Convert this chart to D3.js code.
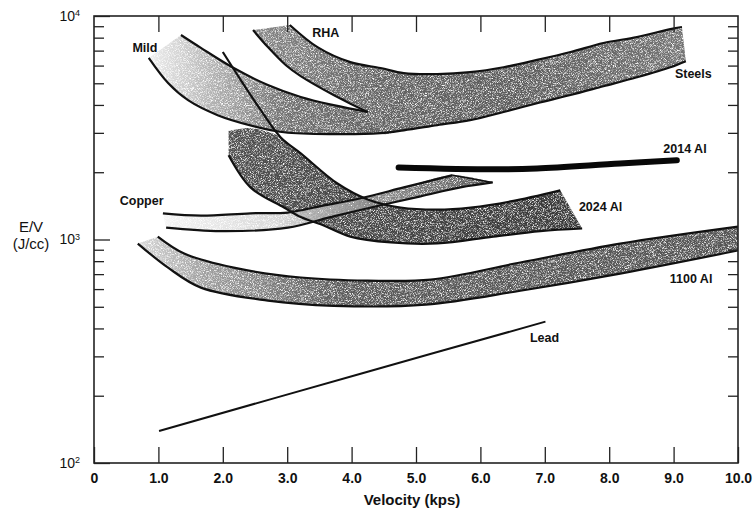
<!DOCTYPE html>
<html>
<head>
<meta charset="utf-8">
<script src="https://cdn.jsdelivr.net/npm/d3@7"></script>
<style>
  body { margin: 0; background: #fff; }
  text { font-family: "Liberation Sans", Arial, Helvetica, sans-serif; fill: #111; }
</style>
</head>
<body>
<script>

	// ---- values: [velocity (kps), E/V (J/cc)] ----
	var steelsUpper = [[3.04,9120],[3.47,7260],[3.98,6220],[4.45,5850],[4.81,5550],[5.33,5500],[5.84,5610],
	    [6.36,5900],[6.88,6360],[7.40,6900],[7.91,7570],[8.43,8050],[8.95,8740],[9.13,8930]];
	var steelsLower = [[0.85,6490],[1.15,5010],[1.46,4200],[1.92,3600],[2.43,3240],[2.95,3020],[3.72,2960],
	    [4.45,2990],[4.81,3080],[5.33,3250],[5.84,3420],[6.36,3720],[6.88,4070],[7.40,4430],[7.91,4850],
	    [8.43,5320],[8.95,5900],[9.19,6280]];
	var mildUpper = [[1.35,8220],[1.66,7200],[2.17,5850],[2.70,4910],[3.21,4340],[3.72,3990],[4.25,3720]];
	var rhaLower = [[2.47,8650],[2.70,7260],[2.98,6020],[3.21,5380],[3.72,4430],[4.25,3720]];

	var al2024Upper = [[2.00,6900],[2.28,5160],[2.59,3790],[2.90,2860],[3.21,2430],[3.78,1780],[4.25,1510],
	    [4.76,1390],[5.33,1360],[5.85,1390],[6.47,1480],[7.24,1660]];
	var al2024Lower = [[2.09,2380],[2.43,1710],[2.95,1390],[3.21,1260],[3.52,1170],[3.98,1030],[4.61,970],
	    [5.33,960],[6.20,1030],[6.93,1090],[7.58,1120]];
	var al2024ShadeTop = [[2.09,3060],[2.43,3150],[2.75,3000]];

	var copperUpper = [[1.07,1310],[1.66,1280],[2.43,1310],[3.01,1320],[3.52,1410],[4.14,1530],[4.81,1710],[5.57,1940]];
	var copperLower = [[1.12,1130],[1.97,1090],[3.01,1130],[3.67,1260],[4.30,1390],[5.07,1560],[5.69,1710],[6.19,1800]];

	var al2014 = [[4.73,2100],[6.20,2060],[6.88,2080],[8.17,2190],[9.05,2260]];

	var al1100Upper = [[0.99,1030],[1.40,865],[2.17,748],[3.21,676],[4.25,655],[5.23,662],[6.62,789],[8.17,959],[10.0,1143]];
	var al1100Lower = [[0.68,959],[1.15,748],[1.66,609],[2.70,533],[3.72,505],[5.15,511],[6.62,590],[8.17,704],[10.0,893]];

	var lead = [[1.01,139],[4.14,251],[7.01,429]];

	var xTicks = [0,1,2,3,4,5,6,7,8,9,10];
	var xTickLabels = ["0","1.0","2.0","3.0","4.0","5.0","6.0","7.0","8.0","9.0","10.0"];
	var yMajor = [100,1000,10000];
	var yMinor = [200,300,400,500,600,700,800,900,2000,3000,4000,5000,6000,7000,8000,9000];

	var labelText = ["Mild","RHA","Steels","2014 Al","2024 Al","Copper","1100 Al","Lead"];
	var labelAt   = [[0.79,6900],[3.60,8050],[9.02,5280],[8.84,2440],[7.53,1340],[0.40,1430],[8.94,638],[6.77,348]];
	var labelAnchor = ["middle","middle","start","start","start","start","start","start"];


	var width = 755, height = 513;

	var svg = d3.select("body")
	    .append("svg")
	    .attr("width", width)
	    .attr("height", height);

	var x = d3.scaleLinear().domain([0, 10]).range([94, 738]);
	var y = d3.scaleLog().domain([100, 10000]).range([463, 16]);

	var defs = svg.append("defs");

	defs.append("clipPath").attr("id", "plot")
	    .append("rect")
	    .attr("x", 94).attr("y", 16)
	    .attr("width", 644).attr("height", 447);

	// speckled shading like the printed halftone
	var grain = defs.append("filter")
	    .attr("id", "grain")
	    .attr("x", 0).attr("y", 0).attr("width", 1).attr("height", 1)
	    .attr("color-interpolation-filters", "sRGB");
	grain.append("feTurbulence")
	    .attr("type", "fractalNoise")
	    .attr("baseFrequency", 1.4)
	    .attr("numOctaves", 3)
	    .attr("seed", 7)
	    .attr("result", "noise");
	grain.append("feColorMatrix")
	    .attr("in", "noise")
	    .attr("type", "matrix")
	    .attr("values", "0 0 0 0 0  0 0 0 0 0  0 0 0 0 0  2.8 0 0 0 -0.55")
	    .attr("result", "mask");
	grain.append("feComposite")
	    .attr("in", "SourceGraphic")
	    .attr("in2", "mask")
	    .attr("operator", "in");

	function addGrad(id, v0, v1, stops) {
	    var g = defs.append("linearGradient")
	        .attr("id", id)
	        .attr("gradientUnits", "userSpaceOnUse")
	        .attr("x1", x(v0)).attr("x2", x(v1))
	        .attr("y1", 0).attr("y2", 0);
	    stops.forEach(function(s) {
	        g.append("stop").attr("offset", s[0]).attr("stop-color", s[1]);
	    });
	}

	addGrad("gMild", 0.85, 4.3, [[0,"#f0f0f0"],[0.3,"#b0b0b0"],[0.6,"#727272"],[1,"#626262"]]);
	addGrad("gSteel", 2.4, 9.2, [[0,"#8a8a8a"],[0.3,"#646464"],[0.6,"#5c5c5c"],[1,"#747474"]]);
	addGrad("g2024", 2.0, 7.6, [[0,"#505050"],[1,"#383838"]]);
	addGrad("gCopper", 1.0, 6.2, [[0,"#f6f6f6"],[0.35,"#d8d8d8"],[0.65,"#8a8a8a"],[1,"#5a5a5a"]]);
	addGrad("g1100", 0.6, 10, [[0,"#dcdcdc"],[0.12,"#a0a0a0"],[0.35,"#5a5a5a"],[1,"#555555"]]);

	var smooth = d3.line()
	    .x(function(d){ return x(d[0]); })
	    .y(function(d){ return y(d[1]); })
	    .curve(d3.curveCatmullRom.alpha(0.5));

	var straight = d3.line()
	    .x(function(d){ return x(d[0]); })
	    .y(function(d){ return y(d[1]); });

	function band(top, bottom) {
	    return smooth(top) + "L" + smooth(bottom.slice().reverse()).slice(1) + "Z";
	}

	var plot = svg.append("g").attr("clip-path", "url(#plot)");

	// shaded bands
	var shades = plot.append("g");

	shades.append("path")
	    .attr("d", band(mildUpper, steelsLower.filter(function(d){ return d[0] <= 4.5; })))
	    .attr("fill", "url(#gMild)")
	    .attr("filter", "url(#grain)");

	shades.append("path")
	    .attr("d", band(steelsUpper, rhaLower.concat(steelsLower.filter(function(d){ return d[0] > 4.3; }))))
	    .attr("fill", "url(#gSteel)")
	    .attr("filter", "url(#grain)");

	shades.append("path")
	    .attr("d", band(al2024ShadeTop.concat(al2024Upper.filter(function(d){ return d[0] >= 2.9; })), al2024Lower))
	    .attr("fill", "url(#g2024)")
	    .attr("filter", "url(#grain)");

	shades.append("path")
	    .attr("d", band(copperUpper.concat([copperLower[copperLower.length - 1]]), copperLower))
	    .attr("fill", "url(#gCopper)")
	    .attr("filter", "url(#grain)");

	shades.append("path")
	    .attr("d", band(al1100Upper, al1100Lower))
	    .attr("fill", "url(#g1100)")
	    .attr("filter", "url(#grain)");

	// outlines
	var edges = [steelsUpper, steelsLower, mildUpper, rhaLower, al2024Upper, al2024Lower,
	    copperUpper, copperLower, al1100Upper, al1100Lower];

	plot.append("g").selectAll("path")
	    .data(edges)
	    .enter()
	    .append("path")
	    .attr("d", smooth)
	    .attr("fill", "none")
	    .attr("stroke", "#111")
	    .attr("stroke-width", 2.2);

	plot.append("path")
	    .attr("d", straight([copperUpper[copperUpper.length - 1], copperLower[copperLower.length - 1]]))
	    .attr("fill", "none")
	    .attr("stroke", "#111")
	    .attr("stroke-width", 1.6);

	plot.append("path")
	    .attr("d", smooth(lead))
	    .attr("fill", "none")
	    .attr("stroke", "#111")
	    .attr("stroke-width", 2);

	plot.append("path")
	    .attr("d", smooth(al2014))
	    .attr("fill", "none")
	    .attr("stroke", "#080808")
	    .attr("stroke-width", 6)
	    .attr("stroke-linecap", "round");

	// curve labels
	svg.append("g").selectAll("text")
	    .data(labelText)
	    .enter()
	    .append("text")
	    .attr("x", function(d, i){ return x(labelAt[i][0]); })
	    .attr("y", function(d, i){ return y(labelAt[i][1]); })
	    .attr("text-anchor", function(d, i){ return labelAnchor[i]; })
	    .attr("font-size", "12.5px")
	    .attr("font-weight", "bold")
	    .text(function(d){ return d; });

	// axes
	var axisColor = "#222";

	svg.append("g")
	    .attr("transform", "translate(0,463)")
	    .call(d3.axisBottom(x).tickValues(xTicks).tickSize(-16).tickPadding(10)
	        .tickFormat(function(d, i){ return xTickLabels[i]; }))
	    .call(function(g){ g.select(".domain").remove(); })
	    .call(function(g){
	        g.selectAll("line").attr("stroke", axisColor).attr("stroke-width", 1.3);
	        g.selectAll("text").attr("font-size", "14px").attr("font-weight", "bold").attr("fill", "#111");
	    });

	svg.append("g")
	    .attr("transform", "translate(0,16)")
	    .call(d3.axisTop(x).tickValues(xTicks.slice(1, 10)).tickSize(-16).tickFormat(""))
	    .call(function(g){ g.select(".domain").remove(); })
	    .call(function(g){ g.selectAll("line").attr("stroke", axisColor).attr("stroke-width", 1.3); });

	svg.append("g")
	    .attr("transform", "translate(94,0)")
	    .call(d3.axisLeft(y).tickValues(yMinor).tickSize(-10).tickFormat(""))
	    .call(function(g){ g.select(".domain").remove(); })
	    .call(function(g){ g.selectAll("line").attr("stroke", axisColor).attr("stroke-width", 1.3); });

	svg.append("g")
	    .attr("transform", "translate(94,0)")
	    .call(d3.axisLeft(y).tickValues(yMajor).tickSize(-16).tickPadding(8).tickFormat(function(){ return "10"; }))
	    .call(function(g){ g.select(".domain").remove(); })
	    .call(function(g){
	        g.selectAll("line").attr("stroke", axisColor).attr("stroke-width", 1.3);
	        g.selectAll("text")
	            .attr("font-size", "14px")
	            .attr("fill", "#111")
	            .attr("dx", "-6px")
	            .each(function(d){
	                d3.select(this).append("tspan")
	                    .attr("dy", "-0.55em")
	                    .attr("font-size", "9px")
	                    .text(Math.round(Math.log10(d)));
	            });
	    });

	svg.append("g")
	    .attr("transform", "translate(738,0)")
	    .call(d3.axisRight(y).tickValues(yMinor).tickSize(-10).tickFormat(""))
	    .call(function(g){ g.select(".domain").remove(); })
	    .call(function(g){ g.selectAll("line").attr("stroke", axisColor).attr("stroke-width", 1.3); });

	// frame
	svg.append("rect")
	    .attr("x", 94).attr("y", 16)
	    .attr("width", 644).attr("height", 447)
	    .attr("fill", "none")
	    .attr("stroke", axisColor)
	    .attr("stroke-width", 1.6);

	// axis titles
	svg.append("text")
	    .attr("x", 412).attr("y", 505)
	    .attr("text-anchor", "middle")
	    .attr("font-size", "15px")
	    .attr("font-weight", "bold")
	    .text("Velocity (kps)");

	svg.append("text")
	    .attr("x", 31).attr("y", 232)
	    .attr("text-anchor", "middle")
	    .attr("font-size", "15px")
	    .text("E/V");

	svg.append("text")
	    .attr("x", 31).attr("y", 249)
	    .attr("text-anchor", "middle")
	    .attr("font-size", "15px")
	    .text("(J/cc)");

</script>
</body>
</html>
